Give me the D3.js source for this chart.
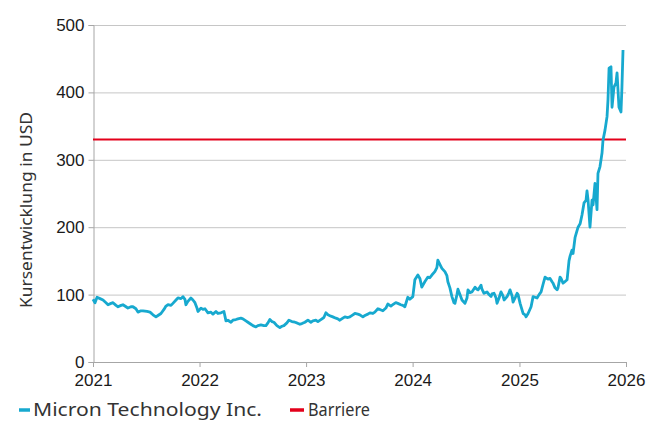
<!DOCTYPE html>
<html lang="de">
  <head>
    <meta charset="UTF-8" />
    <title>Micron Technology – Kursentwicklung</title>
    <script src="https://d3js.org/d3.v7.min.js" charset="utf-8"></script>
    <style>
      body { margin: 0; background: #fff; }
    </style>
  </head>
  <body>
    <svg class="chart"></svg>
    <script>
      // time as decimal year, price in USD
      let times = [
        2021.000, 2021.019, 2021.038, 2021.066, 2021.094, 2021.122, 2021.141, 2021.169, 2021.188, 2021.216,
        2021.235, 2021.263, 2021.281, 2021.310, 2021.328, 2021.356, 2021.375, 2021.403, 2021.422, 2021.450,
        2021.469, 2021.507, 2021.535, 2021.563, 2021.591, 2021.610, 2021.638, 2021.666, 2021.685, 2021.704,
        2021.732, 2021.750, 2021.779, 2021.797, 2021.826, 2021.844, 2021.863, 2021.872, 2021.891, 2021.919,
        2021.938, 2021.957, 2021.976, 2021.985,
        2022.013, 2022.032, 2022.051, 2022.079, 2022.107, 2022.126, 2022.154, 2022.173, 2022.201, 2022.229,
        2022.248, 2022.266, 2022.295, 2022.313, 2022.341, 2022.360, 2022.388, 2022.407, 2022.435, 2022.454,
        2022.482, 2022.501, 2022.529, 2022.548, 2022.576, 2022.604, 2022.623, 2022.642, 2022.660, 2022.679,
        2022.698, 2022.726, 2022.754, 2022.773, 2022.792, 2022.820, 2022.839, 2022.867, 2022.895, 2022.914,
        2022.942, 2022.961, 2022.989,
        2023.017, 2023.045, 2023.064, 2023.092, 2023.111, 2023.139, 2023.167, 2023.186, 2023.205, 2023.233,
        2023.251, 2023.280, 2023.298, 2023.317, 2023.345, 2023.364, 2023.392, 2023.411, 2023.439, 2023.458,
        2023.486, 2023.505, 2023.533, 2023.552, 2023.580, 2023.599, 2023.627, 2023.645, 2023.674, 2023.692,
        2023.721, 2023.749, 2023.767, 2023.796, 2023.814, 2023.842, 2023.861, 2023.889, 2023.908, 2023.927,
        2023.955, 2023.974,
        2024.002, 2024.021, 2024.049, 2024.068, 2024.086, 2024.114, 2024.143, 2024.161, 2024.180, 2024.208,
        2024.227, 2024.236, 2024.255, 2024.274, 2024.302, 2024.321, 2024.330, 2024.349, 2024.368, 2024.387,
        2024.396, 2024.415, 2024.424, 2024.443, 2024.462, 2024.490, 2024.509, 2024.518, 2024.537, 2024.555,
        2024.584, 2024.602, 2024.612, 2024.640, 2024.649, 2024.668, 2024.696, 2024.715, 2024.734, 2024.743,
        2024.762, 2024.781, 2024.790, 2024.809, 2024.827, 2024.846, 2024.856, 2024.884, 2024.902, 2024.912,
        2024.931, 2024.940, 2024.959, 2024.978, 2024.987,
        2025.006, 2025.015, 2025.034, 2025.053, 2025.062, 2025.081, 2025.109, 2025.128, 2025.146, 2025.165,
        2025.184, 2025.203, 2025.221, 2025.240, 2025.268, 2025.287, 2025.306, 2025.315, 2025.334, 2025.353,
        2025.362, 2025.381, 2025.390, 2025.409, 2025.418, 2025.447, 2025.465, 2025.475, 2025.493, 2025.503,
        2025.522, 2025.550, 2025.569, 2025.587, 2025.606, 2025.625, 2025.634, 2025.644, 2025.662, 2025.681,
        2025.691, 2025.709, 2025.728, 2025.737, 2025.756, 2025.775, 2025.784, 2025.803, 2025.822, 2025.831,
        2025.841, 2025.859, 2025.869, 2025.887, 2025.906, 2025.916, 2025.934, 2025.953, 2025.962, 2025.972
      ];

      let prices = [
        93, 88, 96, 94, 92, 88, 85, 87, 88, 84,
        82, 84, 85, 82, 80, 82, 82, 79, 74, 76,
        76, 75, 74, 70, 67, 69, 72, 78, 83, 85,
        84, 87, 92, 95, 94, 97, 93, 85, 90, 95,
        92, 88, 80, 75,
        80, 78, 79, 73, 74, 71, 75, 72, 73, 75,
        61, 62, 59, 62, 63, 64, 65, 64, 61, 59,
        56, 54, 52, 54, 55, 54, 54, 58, 63, 60,
        59, 54, 51, 53, 54, 58, 62, 60, 59, 58,
        56, 57, 59,
        62, 59, 61, 62, 60, 63, 66, 73, 70, 68,
        67, 65, 64, 62, 65, 67, 66, 67, 70, 72,
        71, 70, 67, 69, 71, 73, 72, 74, 79, 78,
        76, 80, 86, 83, 85, 88, 87, 85, 84, 82,
        96, 93,
        97, 122, 129, 124, 111, 119, 126, 125, 129, 134,
        140, 151, 145, 139, 134, 128, 119, 110, 97, 88,
        87, 100, 108, 100, 92, 87, 95, 107, 103, 104,
        111, 108, 107, 114, 108, 102, 104, 100, 97, 101,
        102, 95, 87, 95, 104, 98, 92, 97, 103, 107,
        98, 89, 95, 102, 100,
        87, 82, 72, 70, 67, 72, 82, 97, 96, 95,
        100, 104, 115, 126, 123, 124, 119, 117, 110, 107,
        110, 126, 124, 117, 118, 122, 150, 157, 166, 161,
        185, 200, 205, 218, 236, 240, 254, 240, 200, 240,
        233, 265, 226, 280, 290, 310, 329, 344, 364, 389,
        436, 438, 378, 408, 414, 429, 378, 371, 408, 463
      ];

      let barrier = 330;
      let yTicks = [0, 100, 200, 300, 400, 500];
      let xTicks = [2021, 2022, 2023, 2024, 2025, 2026];
      let seriesNames = ["Micron Technology Inc.", "Barriere"];
      let seriesColors = ["#17a9cf", "#e3001b"];

      let width = 658;
      let height = 422;
      let margin = { left: 93, right: 626, top: 25, bottom: 362 };

      function toDate(t) {
        let yr = Math.floor(t);
        let a = new Date(yr, 0, 1).getTime();
        let b = new Date(yr + 1, 0, 1).getTime();
        return new Date(a + (t - yr) * (b - a));
      }

      let data = times.map((t, i) => ({ date: toDate(t), value: prices[i] }));

      let svg = d3.select(".chart").attr("width", width).attr("height", height);

      let x = d3.scaleTime()
        .domain([new Date(2021, 0, 1), new Date(2026, 0, 1)])
        .range([margin.left, margin.right]);

      let y = d3.scaleLinear().domain([0, 500]).range([margin.bottom, margin.top]);

      // horizontal grid
      svg.append("g")
        .selectAll("line")
        .data(yTicks.filter(d => d > 0))
        .enter()
        .append("line")
        .attr("x1", margin.left)
        .attr("x2", margin.right)
        .attr("y1", d => y(d) + 0.5)
        .attr("y2", d => y(d) + 0.5)
        .style("stroke", "#c6c6c6")
        .style("stroke-width", 1);

      // y axis
      let yAxis = svg.append("g")
        .attr("transform", "translate(" + (margin.left + 0.5) + ",0)")
        .call(d3.axisLeft(y).tickValues(yTicks).tickSize(5).tickPadding(4));

      // x axis
      let xAxis = svg.append("g")
        .attr("transform", "translate(0," + margin.bottom + ")")
        .call(d3.axisBottom(x)
          .tickValues(xTicks.map(d => new Date(d, 0, 1)))
          .tickFormat(d3.timeFormat("%Y"))
          .tickSize(5)
          .tickPadding(7));

      [yAxis, xAxis].forEach(g => {
        g.select(".domain").style("stroke", "#a6a6a6");
        g.selectAll(".tick line").style("stroke", "#a6a6a6");
        g.selectAll(".tick text")
          .style("font-family", "'Liberation Sans', Arial, sans-serif")
          .style("font-size", "17px")
          .style("fill", "#1a1a1a");
      });

      // barrier
      svg.append("line")
        .attr("x1", margin.left)
        .attr("x2", margin.right)
        .attr("y1", y(barrier))
        .attr("y2", y(barrier))
        .style("stroke", seriesColors[1])
        .style("stroke-width", 2);

      // price line
      let line = d3.line()
        .x(d => x(d.date))
        .y(d => y(d.value));

      svg.append("path")
        .datum(data)
        .attr("d", line)
        .style("fill", "none")
        .style("stroke", seriesColors[0])
        .style("stroke-width", 2.8)
        .style("stroke-linejoin", "round");

      // y label
      svg.append("text")
        .attr("transform", "translate(32,210) rotate(-90)")
        .attr("text-anchor", "middle")
        .attr("textLength", 196)
        .attr("lengthAdjust", "spacingAndGlyphs")
        .style("font-family", "'Noto Sans', sans-serif")
        .style("font-size", "16.5px")
        .style("fill", "#333")
        .text("Kursentwicklung in USD");

      // legend
      let legendX = [19, 290];
      let legendW = [229, 62];
      let legend = svg.selectAll(".legend")
        .data(seriesNames)
        .enter()
        .append("g")
        .attr("class", "legend")
        .attr("transform", (d, i) => "translate(" + legendX[i] + ",410)");

      legend.append("line")
        .attr("x1", 0)
        .attr("x2", (d, i) => i == 0 ? 11 : 14)
        .style("stroke", (d, i) => seriesColors[i])
        .style("stroke-width", 3.5);

      legend.append("text")
        .attr("x", (d, i) => i == 0 ? 14 : 18)
        .attr("dy", "0.35em")
        .attr("textLength", (d, i) => legendW[i])
        .attr("lengthAdjust", "spacingAndGlyphs")
        .style("font-family", "'Noto Sans', sans-serif")
        .style("font-size", "18px")
        .style("fill", "#333")
        .text(d => d);
    </script>
  </body>
</html>
